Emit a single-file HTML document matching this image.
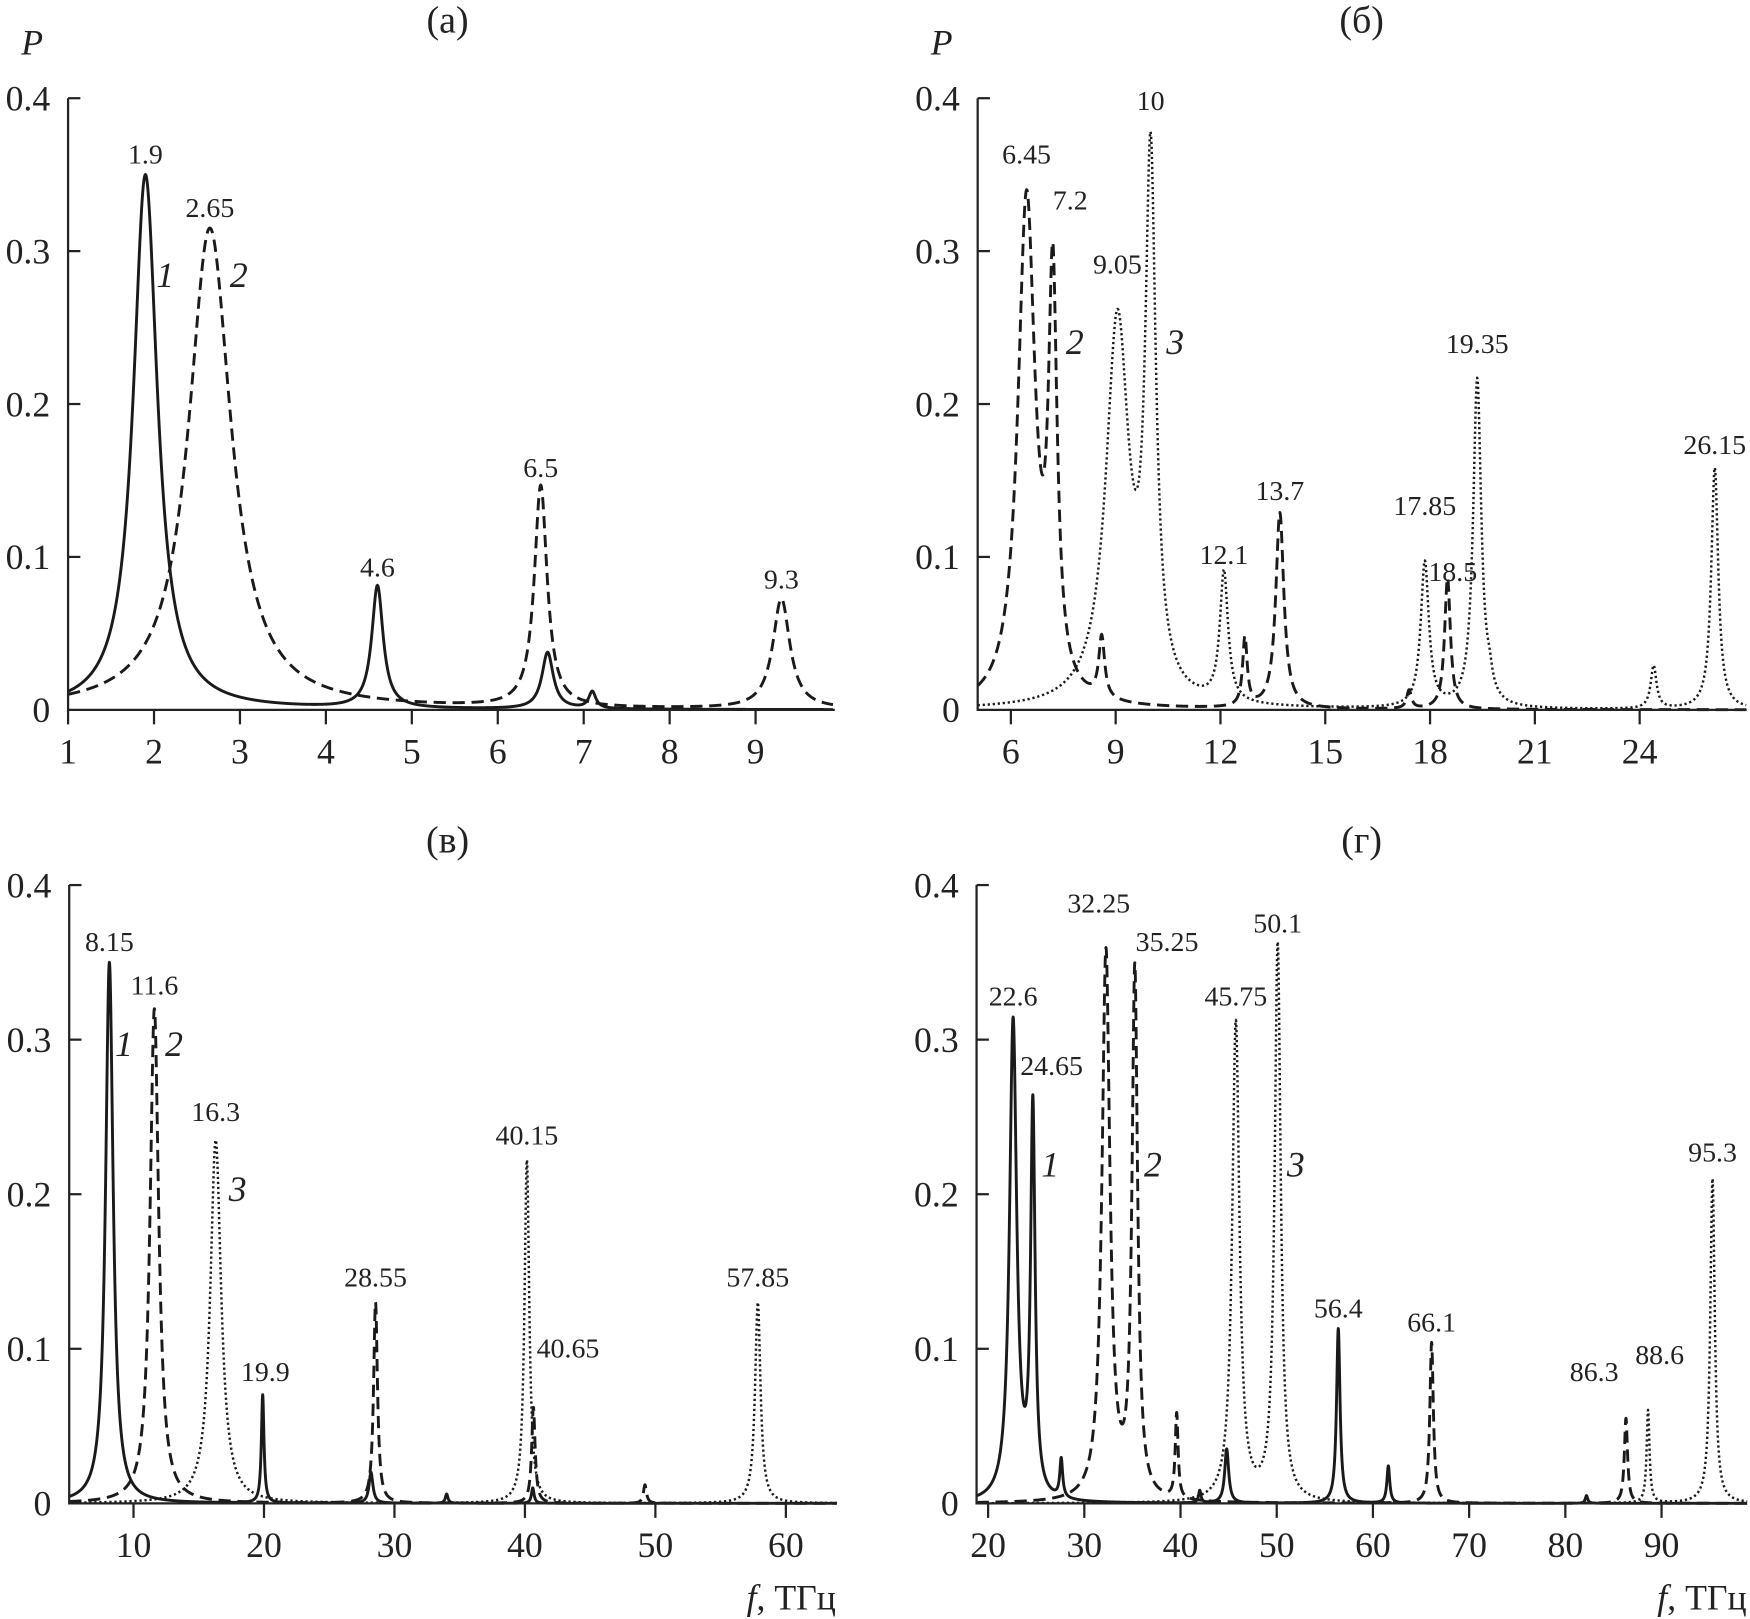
<!DOCTYPE html>
<html><head><meta charset="utf-8"><style>
html,body{margin:0;padding:0;background:#fff}
svg{display:block}
text{font-family:"Liberation Serif","DejaVu Serif",serif;fill:#222}
</style></head><body>
<svg id="fig" width="1750" height="1619" viewBox="0 0 1568 1450.6" preserveAspectRatio="none" xmlns="http://www.w3.org/2000/svg"></svg>
<script>
// ---- data ----
// Panel (a)
const aS1c=[1.9,4.6,6.58,7.1], aS1h=[0.35,0.08,0.037,0.011], aS1w=[0.17,0.08,0.08,0.05];
const aS2c=[2.65,6.5,9.3], aS2h=[0.315,0.145,0.072], aS2w=[0.3,0.09,0.12];
const aTicksX=[1,2,3,4,5,6,7,8,9];
const aLabels=["1.9","2.65","4.6","6.5","9.3"];
const aLabelX=[1.9,2.65,4.6,6.5,9.3];
const aLabelY=[0.35,0.315,0.08,0.145,0.072];
// Panel (б)
const bS2c=[6.45,7.2,8.6,12.7,13.7,17.4,18.5], bS2h=[0.33,0.26,0.04,0.045,0.128,0.012,0.086], bS2w=[0.3,0.15,0.1,0.08,0.14,0.08,0.1];
const bS3c=[9.05,10,12.1,17.85,19.35,19.7,24.4,26.15], bS3h=[0.25,0.34,0.085,0.095,0.215,0.01,0.028,0.158], bS3w=[0.4,0.18,0.14,0.14,0.14,0.1,0.1,0.12];
const bTicksX=[6,9,12,15,18,21,24];
const bLabels=["6.45","7.2","10","9.05","12.1","13.7","17.85","18.5","19.35","26.15"];
const bLabelX=[6.45,7.7,10,9.05,12.1,13.7,17.85,18.65,19.35,26.15];
const bLabelY=[0.35,0.32,0.385,0.278,0.088,0.13,0.12,0.077,0.226,0.16];
// Panel (в)
const vS1c=[8.15,19.9,28.2,34,40.6], vS1h=[0.35,0.07,0.02,0.006,0.01], vS1w=[0.35,0.12,0.18,0.12,0.12];
const vS2c=[11.6,28.55,40.65,49.2], vS2h=[0.32,0.13,0.062,0.012], vS2w=[0.4,0.18,0.16,0.14];
const vS3c=[16.3,40.15,57.85], vS3h=[0.235,0.222,0.13], vS3w=[0.5,0.22,0.25];
const vTicksX=[10,20,30,40,50,60];
const vLabels=["8.15","11.6","16.3","19.9","28.55","40.15","40.65","57.85"];
const vLabelX=[8.15,11.6,16.3,20.1,28.55,40.15,43.3,57.85];
const vLabelY=[0.35,0.322,0.24,0.072,0.133,0.225,0.087,0.133];
// Panel (г)
const gS1c=[22.6,24.65,27.6,42,44.8,56.4,61.6,82.2], gS1h=[0.31,0.25,0.025,0.008,0.035,0.113,0.024,0.005], gS1w=[0.45,0.28,0.18,0.15,0.25,0.22,0.18,0.15];
const gS2c=[32.25,35.25,39.6,66.1,86.3], gS2h=[0.355,0.34,0.055,0.104,0.055], gS2w=[0.5,0.35,0.18,0.22,0.2];
const gS3c=[45.75,50.1,88.6,95.3], gS3h=[0.31,0.36,0.06,0.21], gS3w=[0.45,0.38,0.18,0.28];
const gTicksX=[20,30,40,50,60,70,80,90];
const gLabels=["22.6","24.65","32.25","35.25","45.75","50.1","56.4","66.1","86.3","88.6","95.3"];
const gLabelX=[22.6,26.6,31.5,38.6,45.75,50.1,56.4,66.1,83.0,89.8,95.3];
const gLabelY=[0.315,0.27,0.375,0.35,0.315,0.362,0.113,0.104,0.072,0.083,0.214];
const yTicks=[0,0.1,0.2,0.3,0.4];
const yTickLabels=["0","0.1","0.2","0.3","0.4"];

// ---- drawing ----
const NS="http://www.w3.org/2000/svg";
const svg=document.getElementById('fig');
function el(tag,attrs,parent){const e=document.createElementNS(NS,tag);for(const k in attrs)e.setAttribute(k,attrs[k]);(parent||svg).appendChild(e);return e;}
function txt(s,x,y,size,anchor,parent,italic){const t=el('text',{x:x,y:y,'font-size':size,'text-anchor':anchor||'middle'},parent);if(italic)t.setAttribute('font-style','italic');t.textContent=s;return t;}

function panel(o){
  const g=el('g',{});
  
  
  const xs=v=>o.x0+(v-o.d0)*o.ppu;
  const ys=v=>o.yb-(v/0.4)*(o.yb-o.yt);
  o.series.forEach((s,si)=>{
    let d='';const step=o.step;
    for(let f=o.d0;f<=o.d1+1e-9;f+=step){
      let y=0;for(let i=0;i<s.c.length;i++){const u=(f-s.c[i])/s.w[i];y+=s.h[i]/(1+u*u);}
      d+=(d?'L':'M')+xs(f).toFixed(2)+','+ys(Math.min(y,0.4)).toFixed(2);
    }
    const p=el('path',{d:d,fill:'none',stroke:'#1a1a1a','stroke-width':s.sw,'stroke-dasharray':s.dash,'stroke-linejoin':'round'},g);
    
    
  });
  const ax=el('path',{d:`M${o.x0},${o.yt}V${o.yb}H${o.xr}`,fill:'none',stroke:'#222','stroke-width':2},g);
  
  
  yTicks.forEach((v,i)=>{
    if(i>0)el('line',{x1:o.x0,x2:o.x0+11,y1:ys(v),y2:ys(v),stroke:'#222','stroke-width':2},g);
    const t=txt(yTickLabels[i],o.x0-16,ys(v)+11,32,'end',g);
    
    
  });
  o.ticks.forEach(v=>{
    el('line',{x1:xs(v),x2:xs(v),y1:o.yb,y2:o.yb+13,stroke:'#222','stroke-width':2},g);
    const t=txt(String(v),xs(v),o.yb+48,32,'middle',g);
    
    
  });
  o.labels.forEach((s,i)=>{
    const t=txt(s,xs(o.lx[i]),ys(o.ly[i])-10,25,'middle',g);
    
    
  });
  o.curveLabels.forEach(c=>{
    const t=txt(c[0],c[1],c[2],32,'middle',g,true);
    
    
  });
  const tt=txt(o.title,o.tx,o.ty,34,'middle',g);
  
  
  if(o.P){const p=txt('P',o.x0-42,o.ty+20,32,'start',g,true);
    
    }
  if(o.F){const f=el('text',{x:o.xr,y:o.yb+95,'font-size':32,'text-anchor':'end'},g);
    
    
    const t1=el('tspan',{'font-style':'italic'},f);t1.textContent='f';
    const t2=el('tspan',{},f);t2.textContent=', ТГц';}
}
const SOLID={sw:2.6,dash:'none'},DASH={sw:2.6,dash:'11,6'},DOT={sw:2.2,dash:'2,2.5'};
panel({name:'panel-a',x0:61,xr:748,yt:88,yb:636,d0:1,d1:9.9,ppu:77,step:0.005,ticks:aTicksX,
  series:[{id:1,c:aS1c,h:aS1h,w:aS1w,...SOLID},{id:2,c:aS2c,h:aS2h,w:aS2w,...DASH}],
  labels:aLabels,lx:aLabelX,ly:aLabelY,curveLabels:[['1',148,257],['2',214,257]],title:'(а)',tx:401,ty:29,P:true});
panel({name:'panel-b',x0:876,xr:1565,yt:88,yb:636,d0:5.05,d1:27.05,ppu:31.3,step:0.01,ticks:bTicksX,
  series:[{id:2,c:bS2c,h:bS2h,w:bS2w,...DASH},{id:3,c:bS3c,h:bS3h,w:bS3w,...DOT}],
  labels:bLabels,lx:bLabelX,ly:bLabelY,curveLabels:[['2',963,317],['3',1053,317]],title:'(б)',tx:1220,ty:29,P:true});
panel({name:'panel-v',x0:62,xr:749,yt:793,yb:1347,d0:5.07,d1:63.9,ppu:11.69,step:0.01,ticks:vTicksX,
  series:[{id:1,c:vS1c,h:vS1h,w:vS1w,...SOLID},{id:2,c:vS2c,h:vS2h,w:vS2w,...DASH},{id:3,c:vS3c,h:vS3h,w:vS3w,...DOT}],
  labels:vLabels,lx:vLabelX,ly:vLabelY,curveLabels:[['1',111,946],['2',156,946],['3',213,1076]],title:'(в)',tx:401,ty:764,F:true});
panel({name:'panel-g',x0:875,xr:1565,yt:793,yb:1347,d0:18.8,d1:98.9,ppu:8.62,step:0.01,ticks:gTicksX,
  series:[{id:1,c:gS1c,h:gS1h,w:gS1w,...SOLID},{id:2,c:gS2c,h:gS2h,w:gS2w,...DASH},{id:3,c:gS3c,h:gS3h,w:gS3w,...DOT}],
  labels:gLabels,lx:gLabelX,ly:gLabelY,curveLabels:[['1',941,1054],['2',1033,1054],['3',1161,1054]],title:'(г)',tx:1220,ty:764,F:true});
</script>
</body></html>
